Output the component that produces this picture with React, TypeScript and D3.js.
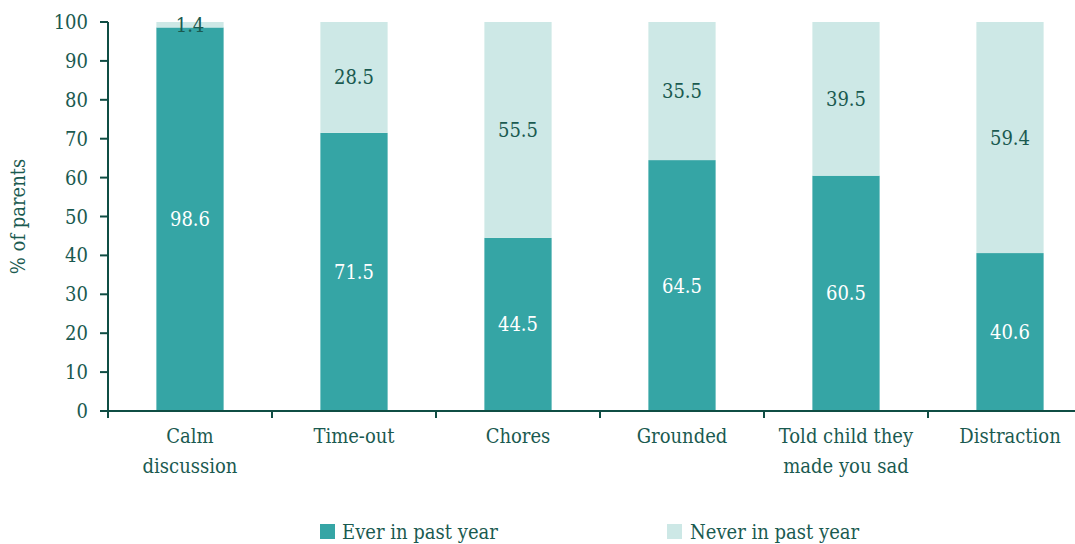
import React from "react";
import * as d3 from "d3";

const categories = ["Calm\ndiscussion", "Time-out", "Chores", "Grounded", "Told child they\nmade you sad", "Distraction"];
const everValues = [98.6, 71.5, 44.5, 64.5, 60.5, 40.6];
const neverValues = [1.4, 28.5, 55.5, 35.5, 39.5, 59.4];
const yTicks = [0, 10, 20, 30, 40, 50, 60, 70, 80, 90, 100];
const seriesNames = ["Ever in past year", "Never in past year"];

const W = 1075, H = 544;
const FONT = "'DejaVu Serif Condensed', 'DejaVu Serif', serif";
const DARK = "#0f4d44";
const TEXT = "#1a5a50";
const C_EVER = "#35a5a5";
const C_NEVER = "#cde8e6";

export default function App() {
  const x0 = 108;
  const step = 164;
  const x = d3.scaleBand<string>().domain(categories).range([x0, x0 + step * categories.length]).paddingInner(0.59).paddingOuter(0.295);
  const y = d3.scaleLinear().domain([0, 100]).range([411, 22]);
  return (
    <svg width={W} height={H} style={{ position: "absolute", left: 0, top: 0, fontFamily: FONT }}>
      {categories.map((c, i) => {
        const bx = x(c)!;
        const bw = x.bandwidth();
        const e = everValues[i], n = neverValues[i];
        return (
          <g key={c}>
            <rect x={bx} y={y(e)} width={bw} height={y(0) - y(e)} fill={C_EVER} />
            <rect x={bx} y={y(e + n)} width={bw} height={y(e) - y(e + n)} fill={C_NEVER} />
            <text x={bx + bw / 2} y={y(e / 2)} dy="0.35em" textAnchor="middle" fill="#fff" fontSize={20}>{e.toFixed(1)}</text>
            <text x={bx + bw / 2} y={y(e + n / 2)} dy="0.35em" textAnchor="middle" fill={TEXT} fontSize={20}>{n.toFixed(1)}</text>
          </g>
        );
      })}
      {/* y axis */}
      <line x1={x0} x2={x0} y1={y(100)} y2={y(0) + 4} stroke={DARK} strokeWidth={2} />
      {yTicks.map(t => (
        <g key={t}>
          <line x1={x0 - 8} x2={x0} y1={y(t)} y2={y(t)} stroke={DARK} strokeWidth={2} />
          <text x={x0 - 20} y={y(t)} dy="0.35em" textAnchor="end" fill={TEXT} fontSize={20}>{t}</text>
        </g>
      ))}
      {/* x axis */}
      <line x1={x0} x2={W} y1={y(0)} y2={y(0)} stroke={DARK} strokeWidth={2} />
      {categories.map((c, i) => (
        <line key={"t" + i} x1={x0 + step * i} x2={x0 + step * i} y1={y(0)} y2={y(0) + 7} stroke={DARK} strokeWidth={2} />
      ))}
      {categories.map((c) => (
        <text key={"l" + c} x={x(c)! + x.bandwidth() / 2} y={443} textAnchor="middle" fill={TEXT} fontSize={20}>
          {c.split("\n").map((ln, j) => (
            <tspan key={j} x={x(c)! + x.bandwidth() / 2} dy={j === 0 ? 0 : 30}>{ln}</tspan>
          ))}
        </text>
      ))}
      <text transform={`translate(25,${y(50)}) rotate(-90)`} textAnchor="middle" fill={TEXT} fontSize={20}>% of parents</text>
      {/* legend */}
      <rect x={320} y={524} width={15} height={15} fill={C_EVER} />
      <text x={342} y={539} fill={TEXT} fontSize={20}>{seriesNames[0]}</text>
      <rect x={667} y={524} width={15} height={15} fill={C_NEVER} />
      <text x={690} y={539} fill={TEXT} fontSize={20}>{seriesNames[1]}</text>
    </svg>
  );
}
